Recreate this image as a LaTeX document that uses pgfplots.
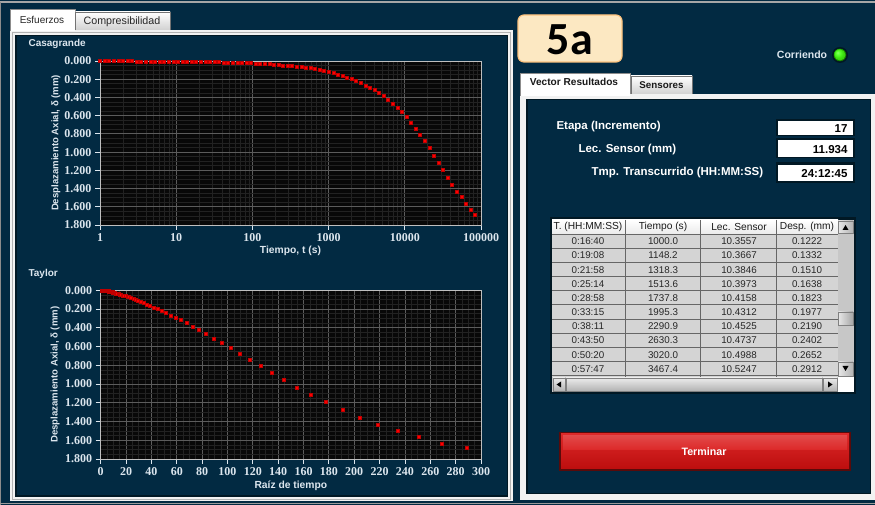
\documentclass[border=0pt]{standalone}
\usepackage{fontspec}
\setmainfont{Liberation Sans}
\newfontfamily\numfont{Liberation Serif}
\newfontfamily\carl{Carlito}
\usepackage{pgfplots}
\pgfplotsset{compat=1.18}
\usepackage{pgfplotstable}

\definecolor{navy}{HTML}{022A42}
\definecolor{navydark}{HTML}{011824}
\definecolor{gridmaj}{HTML}{5C5C5C}
\definecolor{gridmin}{HTML}{222222}
\definecolor{plotbg}{HTML}{080808}
\definecolor{ticktxt}{HTML}{DCE6EE}
\definecolor{panelw}{HTML}{F2F2F2}
\definecolor{cellg}{HTML}{D4D4D4}
\definecolor{peach}{HTML}{FCE8C2}
\definecolor{btntop}{HTML}{DC2828}
\definecolor{btnbot}{HTML}{BC0E0E}
\definecolor{btnedge}{HTML}{5A0A0A}
\newcommand{\fs}[1]{\fontsize{#1}{#1}\selectfont}

\pgfplotstableread{
t r d
1 1.000 0.000
1.148 1.072 0.000
1.318 1.148 0.000
1.514 1.230 0.001
1.738 1.318 0.001
1.995 1.413 0.001
2.291 1.514 0.001
2.630 1.622 0.001
3.020 1.738 0.002
3.467 1.862 0.002
3.981 1.995 0.002
4.571 2.138 0.002
5.248 2.291 0.002
6.026 2.455 0.002
6.918 2.630 0.002
7.943 2.818 0.003
9.120 3.020 0.006
10.47 3.236 0.006
12.02 3.467 0.006
13.80 3.715 0.006
15.85 3.981 0.007
18.20 4.266 0.007
20.89 4.571 0.007
23.99 4.898 0.007
27.54 5.248 0.008
31.62 5.623 0.008
36.31 6.026 0.009
41.69 6.457 0.014
47.86 6.918 0.014
54.95 7.413 0.015
63.10 7.943 0.015
72.44 8.511 0.016
83.18 9.120 0.019
95.50 9.772 0.020
109.6 10.47 0.025
125.9 11.22 0.027
144.5 12.02 0.031
166.0 12.88 0.033
190.5 13.80 0.039
218.8 14.79 0.044
251.2 15.85 0.047
288.4 16.98 0.052
331.1 18.20 0.056
380.2 19.50 0.060
436.5 20.89 0.065
501.2 22.39 0.071
575.4 23.99 0.078
660.7 25.70 0.088
758.6 27.54 0.098
871.0 29.51 0.110
1000.0 31.62 0.1222
1148.2 33.88 0.1332
1318.3 36.31 0.1510
1513.6 38.90 0.1638
1737.8 41.69 0.1823
1995.3 44.67 0.1977
2290.9 47.86 0.2190
2630.3 51.29 0.2402
3020.0 54.95 0.2652
3467.4 58.88 0.2912
3981.1 63.10 0.317
4570.9 67.61 0.349
5248.1 72.44 0.385
6025.6 77.62 0.420
6918.3 83.18 0.466
7943.3 89.13 0.513
9120.1 95.50 0.561
10471.3 102.33 0.615
12022.6 109.65 0.678
13803.8 117.49 0.742
15848.9 125.89 0.808
18197.0 134.90 0.877
20893.0 144.54 0.956
23988.3 154.88 1.036
27542.3 165.96 1.114
31622.8 177.83 1.190
36307.8 190.55 1.276
41686.9 204.17 1.355
47863.0 218.78 1.430
54954.1 234.42 1.494
63095.7 251.19 1.566
72443.6 269.15 1.633
83176.4 288.40 1.683
}\datatbl

\pgfplotsset{
  labview/.style={
    scale only axis,
    ymin=0, ymax=1.8, y dir=reverse,
    ytick={0,0.2,0.4,0.6,0.8,1,1.2,1.4,1.6,1.8},
    yticklabels={0.000,0.200,0.400,0.600,0.800,1.000,1.200,1.400,1.600,1.800},
    minor y tick num=3,
    grid=both,
    major grid style={draw=gridmaj, line width=0.8pt},
    minor grid style={draw=gridmin, line width=0.6pt},
    axis background/.style={fill=plotbg},
    axis line style={draw=black!25, line width=0.9pt},
    tick align=outside, tick pos=left,
    major tick length=5pt, minor tick length=0pt,
    every tick/.style={draw=ticktxt, line width=0.8pt},
    tick label style={font=\numfont\bfseries\fs{12}, text=ticktxt},
    label style={font=\bfseries, text=ticktxt},
    clip=false,
  },
  redpts/.style={only marks, mark=square*, mark size=1.5pt,
    mark options={fill=red, draw=red!75!black, line width=0.3pt}},
}

\begin{document}
\begin{tikzpicture}
\useasboundingbox (0,0) rectangle (875pt,505pt);
\begin{scope}[x=1pt,y=-1pt,yshift=505pt]
  % background
  \fill[navy] (0,0) rectangle (875,505);
  \draw[black!35, line width=1.2pt] (0,2) -- (875,2);
  \draw[black!45, line width=1pt] (0.5,2) -- (0.5,505);
  \draw[black!40, line width=0.8pt] (0,503.5) -- (875,503.5);
  % left tabs
  \fill[panelw] (10,30) rectangle (513,501);
  \fill[navydark] (15,35) rectangle (508,497);
  \fill[navy] (16.5,36.5) rectangle (506.5,495.5);
  \draw[black!30, line width=0.6pt] (12.5,32.5) rectangle (510.5,499);
  \fill[white] (10,9) rectangle (75,31);
  \draw[black!45, line width=0.6pt] (10,31) -- (10,9) -- (75,9) -- (75,30);
  \shade[top color=white, bottom color=black!18] (75.5,12) rectangle (170,30);
  \draw[black!55, line width=0.6pt] (75.5,30) -- (75.5,12) -- (170,12) -- (170,30);
  \node[font=\fs{10}, text=black!85] at (42,20) {Esfuerzos};
  \node[font=\fs{10.7}, text=black!85] at (122,21.5) {Compresibilidad};
  \node[font=\bfseries\fs{10}, text=ticktxt, anchor=west] at (25,44) {Casagrande};
  \node[font=\bfseries\fs{10}, text=ticktxt, anchor=west] at (25,274) {Taylor};
  % right panel
  \fill[panelw] (520,94) rectangle (876,500);
  \fill[navydark] (526,99) rectangle (871,494.5);
  \fill[navy] (527.5,100.5) rectangle (869.5,493);
  \fill[white] (520,73) rectangle (630,96);
  \draw[black!45, line width=0.6pt] (520,96) -- (520,73) -- (630,73) -- (630,94);
  \shade[top color=white, bottom color=black!18] (631,76) rectangle (692,94);
  \draw[black!55, line width=0.6pt] (631,94) -- (631,76) -- (692,76) -- (692,94);
  \node[font=\bfseries\fs{10.1}, text=black!90] at (574,82) {Vector Resultados};
  \node[font=\bfseries\fs{9.8}, text=black!90] at (661.5,85) {Sensores};
  % 5a box
  \fill[peach, draw=orange!35!peach, line width=1.2pt, rounded corners=6pt] (518,15) rectangle (622,62);
  \node[font=\carl\bfseries\fs{46}, text=black] at (570,39.5) {5a};
  % LED
  \node[font=\bfseries\fs{10.5}, text=ticktxt] at (802,55) {Corriendo};
  \fill[navydark] (840,55) circle (8);
  \shade[ball color=green!75!lime] (840,55) circle (6.3);
  \fill[green!70!lime!90!white, opacity=0.6] (840,55) circle (5.5);
  % labels & value boxes
  \node[font=\bfseries\fs{11.5}, text=white, anchor=west] at (553,127) {Etapa (Incremento)};
  \node[font=\bfseries\fs{11.5}, text=white, anchor=west] at (575,150) {Lec. Sensor (mm)};
  \node[font=\bfseries\fs{11.5}, text=white, anchor=west] at (588,173) {Tmp. Transcurrido (HH:MM:SS)};
  \foreach \ya/\yb/\val in {121.5/135/17, 140.5/157/11.934, 165/181.5/24:12:45}{
    \fill[navydark] (775.5,\ya-2.5) rectangle (855,\yb+1.5);
    \fill[white] (778,\ya) rectangle (853,\yb);
    \node[font=\bfseries\fs{11.5}, text=black, anchor=east] at (851,{(\ya+\yb)/2+0.5}) {\val};
  }
  % table
  \fill[navydark] (549.5,217.5) rectangle (856,394.5);
  \fill[cellg] (552,220) rectangle (838,377);
  \shade[top color=white, bottom color=black!8] (552,220) rectangle (838,234);
  \foreach \i in {0,...,10}{
    \draw[black!60, line width=0.7pt] (552,{234+14.17*\i}) -- (838,{234+14.17*\i});
  }
  \foreach \x in {625,700.7,776.7,838}{
    \draw[black!60, line width=0.7pt] (\x,220) -- (\x,377);
  }
  \begin{scope}
    \clip (552,220) rectangle (625,234);
    \node[font=\fs{10.2}, text=black!90] at (588,227) {T. (HH:MM:SS)};
  \end{scope}
  \node[font=\fs{10.2}, text=black!90] at (663,227) {Tiempo (s)};
  \node[font=\fs{10.2}, text=black!90] at (739,227) {Lec. Sensor};
  \node[font=\fs{10.2}, text=black!90] at (807,227) {Desp. (mm)};
  \foreach \a/\b/\c/\d [count=\i from 0] in {0:16:40/1000.0/10.3557/0.1222, 0:19:08/1148.2/10.3667/0.1332, 0:21:58/1318.3/10.3846/0.1510, 0:25:14/1513.6/10.3973/0.1638, 0:28:58/1737.8/10.4158/0.1823, 0:33:15/1995.3/10.4312/0.1977, 0:38:11/2290.9/10.4525/0.2190, 0:43:50/2630.3/10.4737/0.2402, 0:50:20/3020.0/10.4988/0.2652, 0:57:47/3467.4/10.5247/0.2912}{
    \node[font=\fs{9.8}, text=black!85] at (588,{234+14.17*\i+7.3}) {\a};
    \node[font=\fs{9.8}, text=black!85] at (663,{234+14.17*\i+7.3}) {\b};
    \node[font=\fs{9.8}, text=black!85] at (739,{234+14.17*\i+7.3}) {\c};
    \node[font=\fs{9.8}, text=black!85] at (807,{234+14.17*\i+7.3}) {\d};
  }
  % vertical scrollbar
  \fill[black!22] (838,220) rectangle (853.5,377);
  \shade[left color=black!10, right color=black!30, draw=black!50] (838.5,221) rectangle (853,233);
  \fill[black] (842.5,230) -- (848.5,230) -- (845.5,225) -- cycle;
  \shade[left color=black!10, right color=black!35, draw=black!50] (838.5,312) rectangle (853,325);
  \shade[left color=black!10, right color=black!30, draw=black!50] (838.5,362) rectangle (853,376);
  \fill[black] (842.5,366) -- (848.5,366) -- (845.5,371) -- cycle;
  % horizontal scrollbar
  \fill[black!22] (552,377) rectangle (838,392);
  \shade[top color=black!8, bottom color=black!30, draw=black!50] (553,378) rectangle (565,391);
  \fill[black] (561,381.5) -- (561,387.5) -- (556.5,384.5) -- cycle;
  \shade[top color=black!8, bottom color=black!30, draw=black!50] (566,378) rectangle (822,391);
  \shade[top color=black!8, bottom color=black!30, draw=black!50] (823,378) rectangle (837,391);
  \fill[black] (828,381.5) -- (828,387.5) -- (832.5,384.5) -- cycle;
  \fill[white] (838,377) rectangle (853.5,392);
  % button
  \fill[btnedge] (559,432) rectangle (851,471);
  \shade[top color=btntop, bottom color=btnbot] (561,434) rectangle (849,469);
  \shade[top color=btntop!85!white, bottom color=btntop] (563,436) rectangle (847,450);
  \node[font=\bfseries\fs{10.7}, text=white] at (704,452) {Terminar};
\end{scope}

% Casagrande
\begin{axis}[labview,
  at={(100pt,280pt)}, anchor=south west, width=381pt, height=164pt,
  xmode=log, xmin=1, xmax=100000,
  xtick={1,10,100,1000,10000,100000},
  xticklabels={1,10,100,1000,10000,100000},
  minor xtick={2,3,4,5,6,7,8,9,20,30,40,50,60,70,80,90,200,300,400,500,600,700,800,900,2000,3000,4000,5000,6000,7000,8000,9000,20000,30000,40000,50000,60000,70000,80000,90000},
  xlabel={Tiempo, t (s)},
  ylabel={Desplazamiento Axial, δ (mm)},
  xlabel style={font=\bfseries\fs{10.3}, at={(axis description cs:0.5,-0.159)}, anchor=center},
  ylabel style={font=\bfseries\fs{9.6}, at={(axis description cs:-0.1155,0.5)}, anchor=center},
]
\addplot[redpts] table[x=t, y=d] {\datatbl};
\end{axis}

% Taylor
\begin{axis}[labview,
  at={(100.7pt,46pt)}, anchor=south west, width=380.3pt, height=168.7pt,
  xmin=0, xmax=300,
  xtick={0,20,40,60,80,100,120,140,160,180,200,220,240,260,280,300},
  xticklabels={0,20,40,60,80,100,120,140,160,180,200,220,240,260,280,300},
  minor x tick num=3,
  xlabel={Raíz de tiempo},
  ylabel={Desplazamiento Axial, δ (mm)},
  xlabel style={font=\bfseries\fs{10.3}, at={(axis description cs:0.5,-0.16)}, anchor=center},
  ylabel style={font=\bfseries\fs{9.6}, at={(axis description cs:-0.12,0.5)}, anchor=center},
]
\addplot[redpts] table[x=r, y=d] {\datatbl};
\end{axis}
\end{tikzpicture}
\end{document}
